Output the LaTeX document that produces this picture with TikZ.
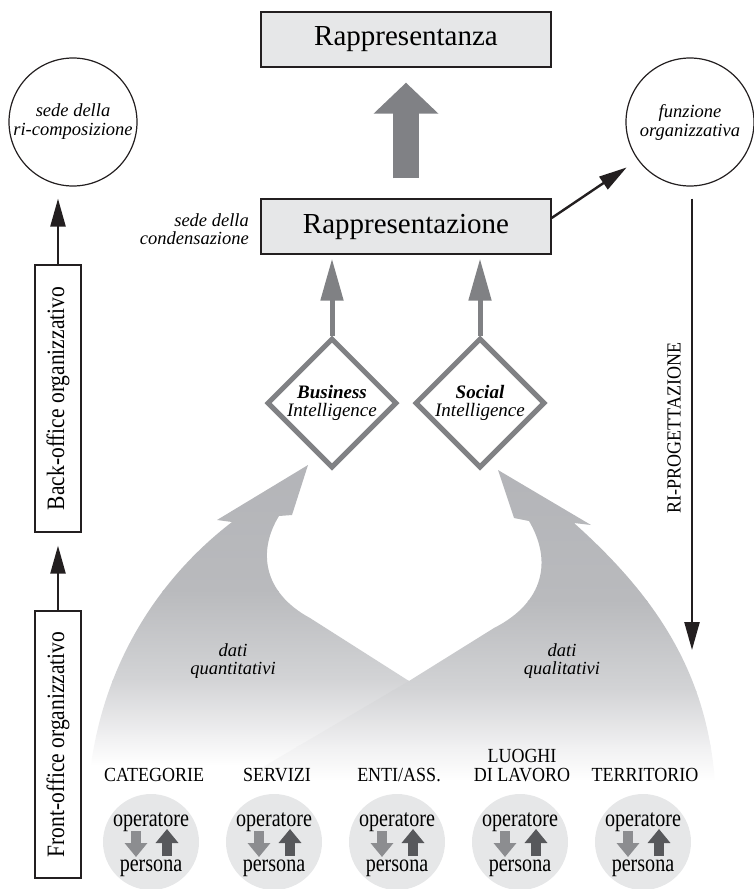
\documentclass[tikz,border=0pt]{standalone}
\usepackage{fontspec}
\setmainfont{Liberation Serif}
\newfontfamily\narrowfont[FakeStretch=0.9]{Liberation Serif}
\newfontfamily\rolefont[FakeStretch=0.82]{Liberation Serif}
\newfontfamily\tallfont[FakeStretch=0.86]{Liberation Serif}
\usetikzlibrary{arrows.meta,shapes.geometric,calc}

\definecolor{ink}{HTML}{231F20}
\definecolor{boxfill}{HTML}{E6E7E8}
\definecolor{bigarrow}{HTML}{808185}
\definecolor{diagray}{HTML}{808184}
\definecolor{cirfill}{HTML}{E6E7E8}
\definecolor{downar}{HTML}{8C8D90}
\definecolor{upar}{HTML}{57585B}
% flow gradient stops
\definecolor{flA}{HTML}{B3B4B8}
\definecolor{flB}{HTML}{B9BABD}
\definecolor{flC}{HTML}{D3D4D6}
\definecolor{flD}{HTML}{F0F0F1}

\tikzset{
  titlebox/.style={draw=ink, line width=1.3pt, fill=boxfill, minimum width=290pt,
    minimum height=55pt, inner sep=0pt, font=\fontsize{29}{33}\selectfont},
  ringnode/.style={draw=ink, line width=1.2pt, circle, minimum size=128pt, inner sep=0pt,
    align=center, font=\fontsize{18.5}{19}\selectfont\itshape},
  sidebox/.style={draw=ink, line width=1.3pt, fill=white, rotate=90, minimum width=267pt,
    minimum height=46pt, inner sep=0pt, font=\tallfont\fontsize{25}{25}\selectfont},
  intel/.style={diamond, draw=diagray, line width=5pt, fill=white, minimum width=130pt,
    minimum height=130pt, inner sep=0pt, align=center,
    font=\fontsize{19}{18}\selectfont\itshape},
  note/.style={align=center, inner sep=0pt, font=\fontsize{18.5}{18}\selectfont\itshape},
  blackarrow/.style={draw=ink, line width=2.4pt, -{Triangle[length=28pt,width=15pt]}},
  grayup/.style={draw=diagray, line width=5pt, -{Triangle[length=42pt,width=22pt]}},
  person/.style={circle, fill=cirfill, minimum size=96pt, inner sep=0pt},
  roletext/.style={anchor=base, inner sep=0pt, font=\rolefont\fontsize{24.5}{24.5}\selectfont},
  grouplabel/.style={anchor=base, inner sep=0pt, align=center,
    font=\narrowfont\fontsize{20}{19}\selectfont},
  downflow/.style={draw=downar, line width=10pt, -{Triangle[length=14pt,width=22pt]}},
  upflow/.style={draw=upar, line width=10pt, -{Triangle[length=14pt,width=22pt]}},
}

\begin{document}
\begin{tikzpicture}[x=1pt,y=-1pt]
\useasboundingbox (0,0) rectangle (754,889);

% ---- shaded data flows ----
\begin{scope}
  \clip (88,795) .. controls (95,680) and (150,585) .. (232,522) -- (217,520) -- (308,465)
    -- (292,515) -- (279,516) .. controls (258,550) and (262,592) .. (310,618)
    -- (409,681) -- (580,795) -- cycle;
  \shade[top color=flA, bottom color=flB] (60,455) rectangle (760,591);
  \shade[top color=flB, bottom color=flC] (60,590) rectangle (760,681);
  \shade[top color=flC, bottom color=flD] (60,680) rectangle (760,736);
  \shade[top color=flD, bottom color=white] (60,735) rectangle (760,766);
\end{scope}
\begin{scope}
  \clip (716,800) .. controls (712,680) and (660,600) .. (574,523) -- (591,525) -- (498,470)
    -- (514,518) -- (529,521) .. controls (552,560) and (545,602) .. (494,628)
    -- (409,681) -- (190,810) -- cycle;
  \shade[top color=flA, bottom color=flB] (60,455) rectangle (760,601);
  \shade[top color=flB, bottom color=flC] (60,600) rectangle (760,691);
  \shade[top color=flC, bottom color=flD] (60,690) rectangle (760,746);
  \shade[top color=flD, bottom color=white] (60,745) rectangle (760,781);
\end{scope}

\node[note] (dq) at (233,661) {dati\\quantitativi};
\node[note] (dl) at (562,661) {dati\\qualitativi};

% ---- central column ----
\node[titlebox] (rt) at (406,39.5) {Rappresentanza};
\node[titlebox] (rz) at (406,226.5) {Rappresentazione};
\node[note, anchor=east, align=right] (cond) at (249,229) {sede della\\condensazione};

\draw[draw=bigarrow, line width=26pt, -{Triangle[length=31pt,width=63pt]},
  shorten <=20pt, shorten >=15pt] (rz.north) -- (rt.south);

\node[intel] (bi) at (332,403) {\textbf{Business}\\Intelligence};
\node[intel] (si) at (480,403) {\textbf{Social}\\Intelligence};

\draw[grayup, shorten >=4pt] (bi.north) -- (bi.north |- rz.south);
\draw[grayup, shorten >=4pt] (si.north) -- (si.north |- rz.south);

% ---- side circles ----
\node[ringnode] (lc) at (73,122) {sede della\\ri-composizione};
\node[ringnode] (fo) at (690,122) {funzione\\organizzativa};

\draw[blackarrow, shorten >=13.4pt] ([yshift=8.5pt]rz.east) -- (fo.216);

\coordinate (rpend) at (692,650);
\draw[blackarrow, shorten <=12pt] (fo.south -| rpend) -- (rpend);
\node[rotate=90, inner sep=0pt, font=\narrowfont\fontsize{20}{20}\selectfont] (rp)
  at (674,428) {RI-PROGETTAZIONE};

% ---- left column ----
\node[sidebox] (bo) at (58,398.5) {Back-office organizzativo};
\node[sidebox] (fr) at (58,744.5) {Front-office organizzativo};
\draw[blackarrow, shorten >=12pt] (bo.east) -- (bo.east |- lc.south);
\draw[blackarrow, shorten >=13pt] (fr.east) -- (bo.west);

% ---- operator / person circles ----
\foreach \i/\x in {1/151, 2/274, 3/397, 4/520, 5/643}{
  \node[person] (c\i) at (\x,842) {};
  \node[roletext] (op\i) at ($(c\i.center)+(0,-16)$) {operatore};
  \node[roletext] (pe\i) at ($(c\i.center)+(0,29)$) {persona};
  \draw[downflow] ($(c\i.center)+(-15,-11)$) -- ($(c\i.center)+(-15,15)$);
  \draw[upflow] ($(c\i.center)+(16,14)$) -- ($(c\i.center)+(16,-13)$);
}
\node[grouplabel] (g1) at (154,781) {CATEGORIE};
\node[grouplabel] (g2) at (277,781) {SERVIZI};
\node[grouplabel] (g3) at (399,781) {ENTI/ASS.};
\node[grouplabel] (g4) at (522,781) {LUOGHI\\DI LAVORO};
\node[grouplabel] (g5) at (645,781) {TERRITORIO};

\end{tikzpicture}
\end{document}
